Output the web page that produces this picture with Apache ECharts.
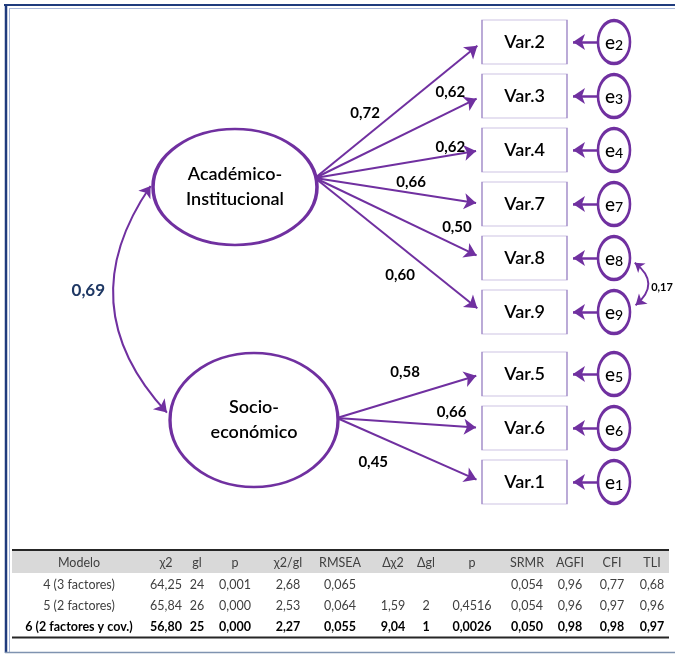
<!DOCTYPE html>
<html>
<head>
<meta charset="utf-8">
<script src="https://cdn.jsdelivr.net/npm/echarts@6/dist/echarts.min.js"></script>
</head>
<body style="margin:0; background:#fff">
<div id="container" style="width:675px; height:655px"></div>
<script>
// ---- data ----
var factorNames = ['Académico-\nInstitucional', 'Socio-\neconómico'];
var indicatorNames = ['Var.2', 'Var.3', 'Var.4', 'Var.7', 'Var.8', 'Var.9', 'Var.5', 'Var.6', 'Var.1'];
var indicatorFactor = [0, 0, 0, 0, 0, 0, 1, 1, 1];
var loadings = [0.72, 0.62, 0.62, 0.66, 0.50, 0.60, 0.58, 0.66, 0.45];
var errorNames = ['2', '3', '4', '7', '8', '9', '5', '6', '1'];
var factorCovariance = 0.69;
var errorCovPair = [4, 5];          // e8 <-> e9
var errorCovariance = 0.17;

var tableHeader = ['Modelo', 'χ2', 'gl', 'p', 'χ2/gl', 'RMSEA', 'Δχ2', 'Δgl', 'p', 'SRMR', 'AGFI', 'CFI', 'TLI'];
var tableRows = [
    ['4 (3 factores)', '64,25', '24', '0,001', '2,68', '0,065', '', '', '', '0,054', '0,96', '0,77', '0,68'],
    ['5 (2 factores)', '65,84', '26', '0,000', '2,53', '0,064', '1,59', '2', '0,4516', '0,054', '0,96', '0,97', '0,96'],
    ['6 (2 factores y cov.)', '56,80', '25', '0,000', '2,27', '0,055', '9,04', '1', '0,0026', '0,050', '0,98', '0,98', '0,97']
];
var boldRow = 2;

// ---- layout ----
var W = 675, H = 655;
var purple = '#7030a0';
var font = 'Lato, "Open Sans", sans-serif';
var rowTop = 42, rowStep = 54, groupGap = 8;
var boxX = 524.5, boxW = 85, boxH = 44;
var errX = 614, errW = 32, errH = 43;
var factorX = [235, 254], factorW = [164, 168], factorH = [116, 134];
var factorDy = [10, -8], originDy = [-9, -2];
var arrowSize = [11, 12];
// where each loading value sits: fraction along its arrow, vertical nudge
var loadT = [0.30, 0.81, 0.81, 0.575, 0.85, 0.51, 0.47, 0.79, 0.25];
var loadDy = [-24, -19, -8, -11, -19, 29, -25, -14, 28];
var tableCols = [79, 166, 197, 235, 288, 340, 393, 426, 472, 527, 570, 612, 652];
var tableRowY = [563, 585, 606, 627];

var ellipsePath = 'path://M0,50C0,22.4 22.4,0 50,0C77.6,0 100,22.4 100,50C100,77.6 77.6,100 50,100C22.4,100 0,77.6 0,50Z';

function fmt(v) { return v.toFixed(2).replace('.', ','); }

function rowY(i) {
    return rowTop + i * rowStep + indicatorFactor[i] * groupGap;
}

var factorCY = factorNames.map(function (f, k) {
    var ys = [];
    indicatorNames.forEach(function (n, i) { if (indicatorFactor[i] === k) ys.push(rowY(i)); });
    return (ys[0] + ys[ys.length - 1]) / 2 + factorDy[k];
});

function origin(k) {
    var rx = factorW[k] / 2, ry = factorH[k] / 2, dy = originDy[k];
    return [factorX[k] + rx * Math.sqrt(1 - dy * dy / (ry * ry)) - 1, factorCY[k] + dy];
}

// arrow symbol is centred on the line end, so pull the end back by half its length
function straight(from, tip) {
    var dx = tip[0] - from[0], dy = tip[1] - from[1], l = Math.sqrt(dx * dx + dy * dy);
    var b = arrowSize[1] / 2;
    return [from, [tip[0] - dx / l * b, tip[1] - dy / l * b]];
}
function curved(s, e, c) {
    var cp = [(s[0] + e[0]) / 2 - (s[1] - e[1]) * c, (s[1] + e[1]) / 2 - (e[0] - s[0]) * c];
    var b = arrowSize[1] / 2;
    function pull(p) {
        var dx = cp[0] - p[0], dy = cp[1] - p[1], l = Math.sqrt(dx * dx + dy * dy);
        return [p[0] + dx / l * b, p[1] + dy / l * b];
    }
    return { coords: [pull(s), pull(e)], mid: [0.25 * s[0] + 0.5 * cp[0] + 0.25 * e[0], 0.25 * s[1] + 0.5 * cp[1] + 0.25 * e[1]] };
}

// ---- build series data ----
var arrowData = [];
var labelData = [];
indicatorNames.forEach(function (n, i) {
    var k = indicatorFactor[i];
    var o = origin(k);
    var tip = [boxX - boxW / 2, rowY(i)];
    arrowData.push({ coords: straight(o, tip) });
    arrowData.push({
        coords: straight([errX - errW / 2, rowY(i)], [boxX + boxW / 2, rowY(i)]),
        lineStyle: { width: 2.5 }
    });
    var t = loadT[i];
    labelData.push({
        name: fmt(loadings[i]),
        value: [o[0] + (tip[0] - o[0]) * t, o[1] + (tip[1] - o[1]) * t + loadDy[i]]
    });
});

var fcS = [factorX[0] - factorW[0] / 2 + 1, factorCY[0] - 6];
var fcE = [factorX[1] - factorW[1] / 2 + 1, factorCY[1] - 3];
var fc = curved(fcS, fcE, -0.40);
arrowData.push({ coords: fc.coords, symbol: ['arrow', 'arrow'], lineStyle: { curveness: -0.40 } });
labelData.push({
    name: fmt(factorCovariance), value: [fc.mid[0] - 27, fc.mid[1] - 12],
    label: { fontSize: 17, color: '#1f3864', fontWeight: 'bold' }
});

var ecS = [errX + errW / 2, rowY(errorCovPair[0]) + 1];
var ecE = [errX + errW / 2 + 1, rowY(errorCovPair[1]) - 3];
var ec = curved(ecS, ecE, 0.62);
arrowData.push({ coords: ec.coords, symbol: ['arrow', 'arrow'], symbolSize: [9, 10], lineStyle: { curveness: 0.62 } });
labelData.push({
    name: fmt(errorCovariance), value: [ec.mid[0] + 16, ec.mid[1] + 4],
    label: { fontSize: 11 }
});

var boxData = indicatorNames.map(function (n, i) { return { name: n, value: [boxX, rowY(i)] }; });
var errData = errorNames.map(function (n, i) { return { name: n, value: [errX, rowY(i)] }; });
var factorData = factorNames.map(function (n, k) {
    return { name: n, value: [factorX[k], factorCY[k]], symbolSize: [factorW[k], factorH[k]] };
});

var tableData = [];
[tableHeader].concat(tableRows).forEach(function (row, r) {
    row.forEach(function (txt, c) {
        if (!txt) return;
        var bold = (r - 1) === boldRow;
        tableData.push({
            name: txt, value: [tableCols[c], tableRowY[r]],
            label: { fontWeight: bold ? 'bold' : 'normal', color: bold ? '#000' : '#404040' }
        });
    });
});

// ---- chart ----
var chart = echarts.init(document.getElementById('container'));
var option = {
    animation: false,
    backgroundColor: '#fff',
    grid: { left: 0, right: 0, top: 0, bottom: 0 },
    xAxis: { type: 'value', min: 0, max: W, show: false },
    yAxis: { type: 'value', min: 0, max: H, inverse: true, show: false },
    graphic: [
        { type: 'rect', shape: { x: 12, y: 551, width: 657, height: 22 }, style: { fill: '#d9d9d9' } },
        { type: 'line', shape: { x1: 12, y1: 550, x2: 669, y2: 550 }, style: { stroke: '#262626', lineWidth: 2 } },
        { type: 'line', shape: { x1: 12, y1: 637.5, x2: 669, y2: 637.5 }, style: { stroke: '#262626', lineWidth: 2 } },
        { type: 'line', shape: { x1: 6, y1: 4, x2: 6, y2: 653 }, style: { stroke: '#1f3b7d', lineWidth: 2.5 } },
        { type: 'line', shape: { x1: 4, y1: 5, x2: W, y2: 5 }, style: { stroke: '#1f3b7d', lineWidth: 2 } },
        { type: 'line', shape: { x1: 9.5, y1: 8, x2: 9.5, y2: 652 }, style: { stroke: '#a9b8d8', lineWidth: 1 } },
        { type: 'line', shape: { x1: 9, y1: 8.5, x2: W, y2: 8.5 }, style: { stroke: '#a9b8d8', lineWidth: 1 } },
        { type: 'line', shape: { x1: 5, y1: 652.5, x2: W, y2: 652.5 }, style: { stroke: '#7f93b0', lineWidth: 1.5 } }
    ],
    series: [
        {
            type: 'lines',
            coordinateSystem: 'cartesian2d',
            silent: true,
            z: 1,
            symbol: ['none', 'arrow'],
            symbolSize: arrowSize,
            lineStyle: { color: purple, width: 2, opacity: 1, curveness: 0 },
            data: arrowData
        },
        {
            type: 'scatter',
            silent: true,
            z: 3,
            symbol: 'rect',
            symbolSize: [boxW, boxH],
            itemStyle: { color: '#fff', borderColor: '#9d86c6', borderWidth: 1, opacity: 1 },
            label: { show: true, position: 'inside', formatter: '{b}', fontFamily: font, fontSize: 18, fontWeight: 600, color: '#000' },
            data: boxData
        },
        {
            type: 'scatter',
            silent: true,
            z: 3,
            symbol: ellipsePath,
            itemStyle: { color: '#fff', borderColor: purple, borderWidth: 3, opacity: 1 },
            label: {
                show: true, position: 'inside', formatter: '{b}', fontFamily: font,
                fontSize: 18, fontWeight: 600, lineHeight: 25, color: '#000'
            },
            data: factorData
        },
        {
            type: 'scatter',
            silent: true,
            z: 3,
            symbol: ellipsePath,
            symbolSize: [errW, errH],
            itemStyle: { color: '#fff', borderColor: purple, borderWidth: 3, opacity: 1 },
            label: {
                show: true, position: 'inside',
                formatter: function (p) { return '{e|e}{n|' + p.name + '}'; },
                rich: {
                    e: { fontFamily: font, fontSize: 19, fontWeight: 500, color: '#000', lineHeight: 20, verticalAlign: 'bottom' },
                    n: { fontFamily: font, fontSize: 14, fontWeight: 500, color: '#000', lineHeight: 20, verticalAlign: 'bottom' }
                }
            },
            data: errData
        },
        {
            type: 'scatter',
            silent: true,
            z: 4,
            symbolSize: 1,
            itemStyle: { color: 'rgba(0,0,0,0)', opacity: 1 },
            label: { show: true, position: 'inside', formatter: '{b}', fontFamily: font, fontSize: 15, fontWeight: 'bold', color: '#000' },
            data: labelData
        },
        {
            type: 'scatter',
            silent: true,
            z: 4,
            symbolSize: 1,
            itemStyle: { color: 'rgba(0,0,0,0)', opacity: 1 },
            label: { show: true, position: 'inside', formatter: '{b}', fontFamily: font, fontSize: 12.5 },
            data: tableData
        }
    ]
};
chart.setOption(option);
</script>
</body>
</html>
